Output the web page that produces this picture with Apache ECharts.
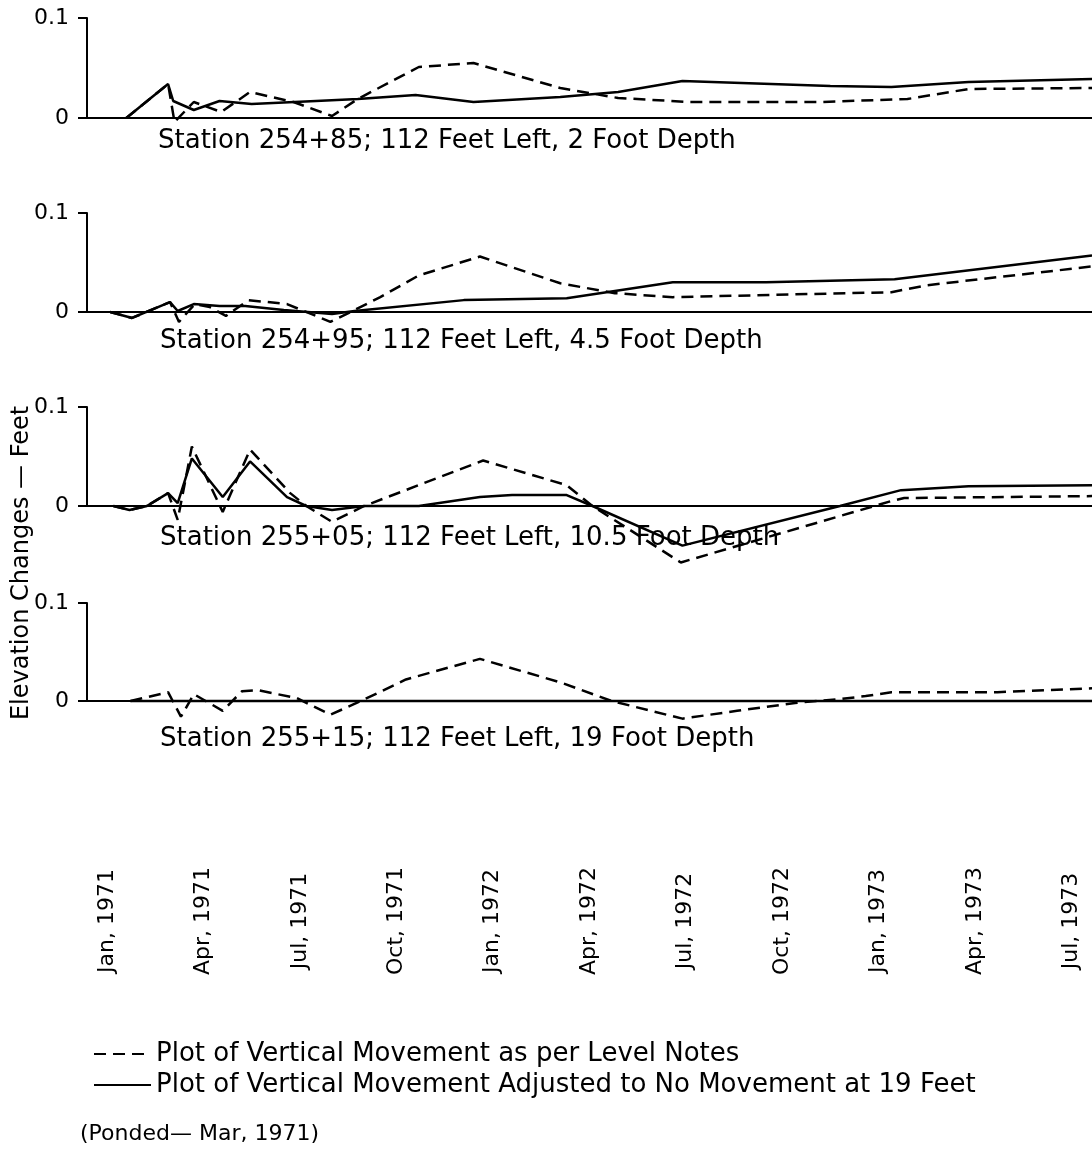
<!DOCTYPE html>
<html><head><meta charset="utf-8">
<script src="https://cdn.jsdelivr.net/npm/echarts@6/dist/echarts.min.js"></script>
<style>html,body{margin:0;padding:0;background:#fff}#c{width:1092px;height:1166px}</style>
</head><body><div id="c"></div>
<script>
// ---- data (x = months since Jan 1971, y = elevation change in feet) ----
const dateLabels = ['Jan, 1971','Apr, 1971','Jul, 1971','Oct, 1971','Jan, 1972','Apr, 1972','Jul, 1972','Oct, 1972','Jan, 1973','Apr, 1973','Jul, 1973'];
const yTickLabels = ['0', '0.1'];
const captions = [
  'Station 254+85; 112 Feet Left, 2 Foot Depth',
  'Station 254+95; 112 Feet Left, 4.5 Foot Depth',
  'Station 255+05; 112 Feet Left, 10.5 Foot Depth',
  'Station 255+15; 112 Feet Left, 19 Foot Depth'
];
const legendNames = ['Plot of Vertical Movement as per Level Notes', 'Plot of Vertical Movement Adjusted to No Movement at 19 Feet'];
const yTitle = 'Elevation Changes — Feet';
const note = '(Ponded— Mar, 1971)';

const p1DashM = [0.6, 1.9, 2.1, 2.7, 3.55, 4.45, 5.8, 7.0, 7.8, 9.7, 11.4, 14.1, 15.9, 18.1, 22.2, 24.9, 26.8, 30.64];
const p1DashV = [0, 0.034, -0.004, 0.016, 0.006, 0.026, 0.016, 0.002, 0.019, 0.051, 0.055, 0.030, 0.020, 0.016, 0.016, 0.019, 0.029, 0.030];
const p1SolidM = [0.6, 1.9, 2.06, 2.7, 3.5, 4.5, 6.5, 7.8, 9.6, 11.4, 14.1, 15.9, 17.9, 22.5, 24.4, 26.8, 30.64];
const p1SolidV = [0, 0.034, 0.017, 0.008, 0.017, 0.014, 0.017, 0.019, 0.023, 0.016, 0.021, 0.026, 0.037, 0.032, 0.031, 0.036, 0.039];

const p2DashM = [0.1, 0.78, 1.96, 2.24, 2.73, 3.2, 3.7, 4.4, 5.6, 6.95, 7.7, 8.5, 9.7, 11.6, 14.1, 15.8, 17.6, 24.4, 25.5, 30.64];
const p2DashV = [0, -0.006, 0.010, -0.010, 0.008, 0.005, -0.004, 0.012, 0.008, -0.010, 0.002, 0.015, 0.037, 0.056, 0.029, 0.019, 0.015, 0.020, 0.027, 0.046];
const p2SolidM = [0.1, 0.78, 1.96, 2.2, 2.7, 3.5, 4.3, 5.5, 7.0, 7.7, 11.1, 14.3, 17.6, 20.5, 24.5, 30.64];
const p2SolidV = [0, -0.006, 0.010, 0.001, 0.008, 0.006, 0.006, 0.002, -0.002, 0.001, 0.012, 0.014, 0.030, 0.030, 0.033, 0.057];

const p3DashM = [0.2, 0.7, 1.24, 1.9, 2.2, 2.64, 3.6, 4.45, 5.7, 6.2, 7.0, 8.0, 11.7, 14.3, 15.1, 17.85, 24.4, 24.8, 30.64];
const p3DashV = [0, -0.004, 0, 0.013, -0.014, 0.060, -0.006, 0.057, 0.013, 0, -0.016, 0, 0.046, 0.021, 0, -0.057, 0.005, 0.008, 0.010];
const p3SolidM = [0.2, 0.7, 1.24, 1.9, 2.2, 2.64, 3.6, 4.45, 5.6, 6.2, 7.0, 8.0, 9.7, 11.6, 12.6, 14.3, 15.1, 17.9, 22.8, 24.7, 26.8, 30.64];
const p3SolidV = [0, -0.004, 0, 0.013, 0.003, 0.048, 0.009, 0.045, 0.009, 0, -0.004, 0, 0, 0.009, 0.011, 0.011, 0, -0.040, 0, 0.016, 0.020, 0.021];

const p4DashM = [0.73, 1.9, 2.3, 2.7, 3.6, 4.2, 4.7, 5.9, 6.95, 7.9, 9.3, 11.6, 14.1, 15.7, 17.9, 19.6, 21.4, 22.8, 23.6, 24.4, 27.7, 30.64];
const p4DashV = [0, 0.009, -0.016, 0.007, -0.010, 0.010, 0.011, 0.003, -0.014, 0, 0.022, 0.043, 0.019, 0, -0.018, -0.010, -0.002, 0.002, 0.005, 0.009, 0.009, 0.013];
const p4SolidM = [0.73, 11.6, 17.9, 30.64];
const p4SolidV = [0, 0, 0, 0];

// ---- layout ----
const FONT = 'DejaVu Sans';
const X_MIN = -0.622, X_MAX = 30.64;
const panelTops = [18, 213, 407, 603];
const panelHeights = [100, 99, 99, 98];
const captionTops = [128, 328, 525, 726];
const captionLefts = [158, 160, 160, 160];
const panels = [
  [p1DashM, p1DashV, p1SolidM, p1SolidV],
  [p2DashM, p2DashV, p2SolidM, p2SolidV],
  [p3DashM, p3DashV, p3SolidM, p3SolidV],
  [p4DashM, p4DashV, p4SolidM, p4SolidV]
];

const grid = [], xAxis = [], yAxis = [], series = [], title = [];
panels.forEach((p, i) => {
  grid.push({left: 87, right: 0, top: panelTops[i], height: panelHeights[i], containLabel: false, outerBoundsMode: 'none'});
  xAxis.push({gridIndex: i, type: 'value', min: X_MIN, max: X_MAX,
    axisLine: {show: true, onZero: false, lineStyle: {color: '#000', width: 2}},
    axisTick: {show: false}, axisLabel: {show: false}, splitLine: {show: false}});
  yAxis.push({gridIndex: i, type: 'value', min: 0, max: 0.1, interval: 0.1,
    axisLine: {show: true, onZero: false, lineStyle: {color: '#000', width: 2}},
    axisTick: {show: true, length: 9, lineStyle: {color: '#000', width: 2}},
    splitLine: {show: false},
    axisLabel: {margin: 18, fontSize: 22, fontFamily: FONT, color: '#000',
      formatter: v => (Math.abs(v) < 1e-9 ? yTickLabels[0] : yTickLabels[1])}});
  const mk = (name, m, v, dashed) => ({
    name, type: 'line', xAxisIndex: i, yAxisIndex: i,
    data: m.map((x, k) => [x, v[k]]),
    symbol: 'none', clip: false, silent: true, animation: false,
    itemStyle: {color: '#000'},
    lineStyle: {color: '#000', width: 2.5, type: dashed ? [12, 7] : 'solid'}
  });
  series.push(mk(legendNames[0], p[0], p[1], true));
  series.push(mk(legendNames[1], p[2], p[3], false));
  title.push({text: captions[i], left: captionLefts[i], top: captionTops[i], padding: 0,
    textStyle: {fontFamily: FONT, fontSize: 26, fontWeight: 'normal', color: '#000'}});
});
// date label axis
grid.push({left: 107, right: 0, top: 920, height: 1, containLabel: false, outerBoundsMode: 'none'});
xAxis.push({gridIndex: 4, type: 'value', min: 0, max: X_MAX, interval: 3,
  axisLine: {show: false}, axisTick: {show: false}, splitLine: {show: false},
  axisLabel: {rotate: 90, margin: 0, align: 'center', verticalAlign: 'middle', fontSize: 22, fontFamily: FONT, color: '#000',
    showMinLabel: true, showMaxLabel: false,
    formatter: v => { const k = Math.round(v / 3); return Math.abs(v - k * 3) < 1e-6 && k < dateLabels.length ? dateLabels[k] : ''; }}});
yAxis.push({gridIndex: 4, type: 'value', show: false, min: 0, max: 1});

const legendCommon = {left: 88, orient: 'horizontal', itemWidth: 57, itemHeight: 14, selectedMode: false,
  textStyle: {fontFamily: FONT, fontSize: 26, color: '#000'},
  itemStyle: {color: 'rgba(0,0,0,0)', borderWidth: 0}};

const chart = echarts.init(document.getElementById('c'));
chart.setOption({
  backgroundColor: '#fff',
  animation: false,
  title, grid, xAxis, yAxis, series,
  legend: [
    Object.assign({data: [legendNames[0]], top: 1036}, legendCommon),
    Object.assign({data: [legendNames[1]], top: 1067}, legendCommon)
  ],
  graphic: [
    {type: 'text', x: 22, y: 563, rotation: Math.PI / 2,
      style: {text: yTitle, fontSize: 24, fontFamily: FONT, fill: '#000', align: 'center', verticalAlign: 'middle'}},
    {type: 'text', left: 80, top: 1123,
      style: {text: note, fontSize: 22, fontFamily: FONT, fill: '#000'}}
  ]
});
</script></body></html>
